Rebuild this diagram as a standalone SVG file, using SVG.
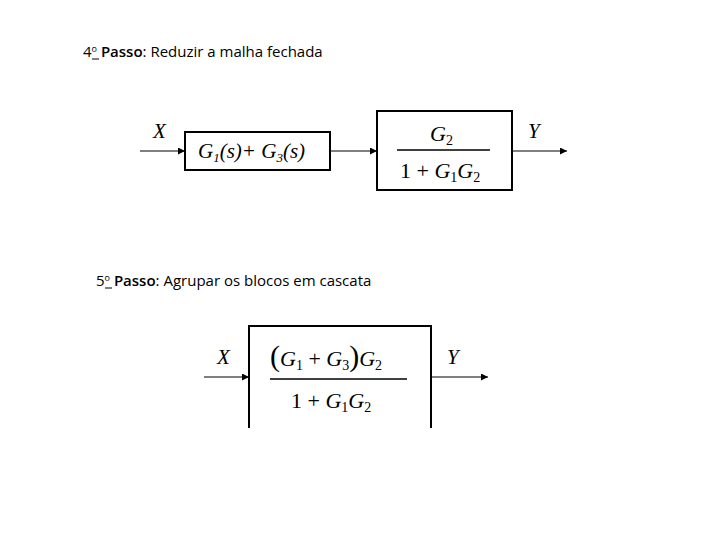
<svg xmlns="http://www.w3.org/2000/svg" width="720" height="540" viewBox="0 0 720 540">
<style>
.h{font-family:"Open Sans","Liberation Sans",Arial,sans-serif;font-size:15px;fill:#000}
.m{font-family:"Liberation Serif","Times New Roman",serif;fill:#000}
.b{fill:#fff;stroke:#000;stroke-width:2}
.c{stroke:#000;stroke-width:1.2;fill:none}
</style>
<defs><marker id="a" viewBox="0 0 10 10" refX="10" refY="5" markerWidth="12" markerHeight="7" orient="auto" markerUnits="userSpaceOnUse"><path d="M0,0L10,5L0,10z" fill="#000"/></marker></defs>
<rect width="720" height="540" fill="#fff"/>
<text class="h" x="83" y="57">4<tspan font-size="9" dy="-5">o</tspan><tspan dy="5" font-weight="600"> Passo</tspan>: Reduzir a malha fechada</text>
<line x1="92" y1="59" x2="99" y2="59" stroke="#000"/>
<text class="h" x="96" y="286">5<tspan font-size="9" dy="-5">o</tspan><tspan dy="5" font-weight="600"> Passo</tspan>: Agrupar os blocos em cascata</text>
<line x1="105" y1="288" x2="112" y2="288" stroke="#000"/>
<g id="connectors">
<line class="c" x1="140" y1="151" x2="185" y2="151" marker-end="url(#a)"/>
<line class="c" x1="330" y1="151" x2="377" y2="151" marker-end="url(#a)"/>
<line class="c" x1="512" y1="151" x2="567" y2="151" marker-end="url(#a)"/>
<line class="c" x1="204" y1="377" x2="249" y2="377" marker-end="url(#a)"/>
<line class="c" x1="431" y1="377" x2="488" y2="377" marker-end="url(#a)"/>
</g>
<g id="labels">
<text class="m" x="153" y="138" font-size="21" font-style="italic">X</text>
<text class="m" x="528" y="138" font-size="21" font-style="italic">Y</text>
<text class="m" x="217" y="364" font-size="21" font-style="italic">X</text>
<text class="m" x="447" y="364" font-size="21" font-style="italic">Y</text>
</g>
<g id="block1">
<rect class="b" x="185" y="132" width="145" height="38"/>
<text class="m" x="198" y="158" font-size="21" font-style="italic">G<tspan font-size="13" dy="4">1</tspan><tspan dy="-4">(s)+ G</tspan><tspan font-size="13" dy="4">3</tspan><tspan dy="-4">(s)</tspan></text>
</g>
<g id="block2">
<rect class="b" x="377" y="111" width="135" height="79"/>
<text class="m" x="430" y="141" font-size="22"><tspan font-style="italic">G</tspan><tspan font-size="14" dy="4">2</tspan></text>
<line x1="397" y1="150" x2="490" y2="150" stroke="#000" stroke-width="1.3"/>
<text class="m" x="400" y="178" font-size="22">1 + <tspan font-style="italic">G</tspan><tspan font-size="14" dy="4">1</tspan><tspan dy="-4" font-style="italic">G</tspan><tspan font-size="14" dy="4">2</tspan></text>
</g>
<g id="block3">
<path d="M249,428V326H431V428" fill="none" stroke="#000" stroke-width="2"/>
<text class="m" x="270" y="366" font-size="22"><tspan font-size="30">(</tspan><tspan font-style="italic">G</tspan><tspan font-size="14" dy="4">1</tspan><tspan dy="-4"> + </tspan><tspan font-style="italic">G</tspan><tspan font-size="14" dy="4">3</tspan><tspan dy="-4" font-size="30">)</tspan><tspan font-style="italic">G</tspan><tspan font-size="14" dy="4">2</tspan></text>
<line x1="270" y1="379" x2="407" y2="379" stroke="#000" stroke-width="1.3"/>
<text class="m" x="291" y="408" font-size="22">1 + <tspan font-style="italic">G</tspan><tspan font-size="14" dy="4">1</tspan><tspan dy="-4" font-style="italic">G</tspan><tspan font-size="14" dy="4">2</tspan></text>
</g>
</svg>
